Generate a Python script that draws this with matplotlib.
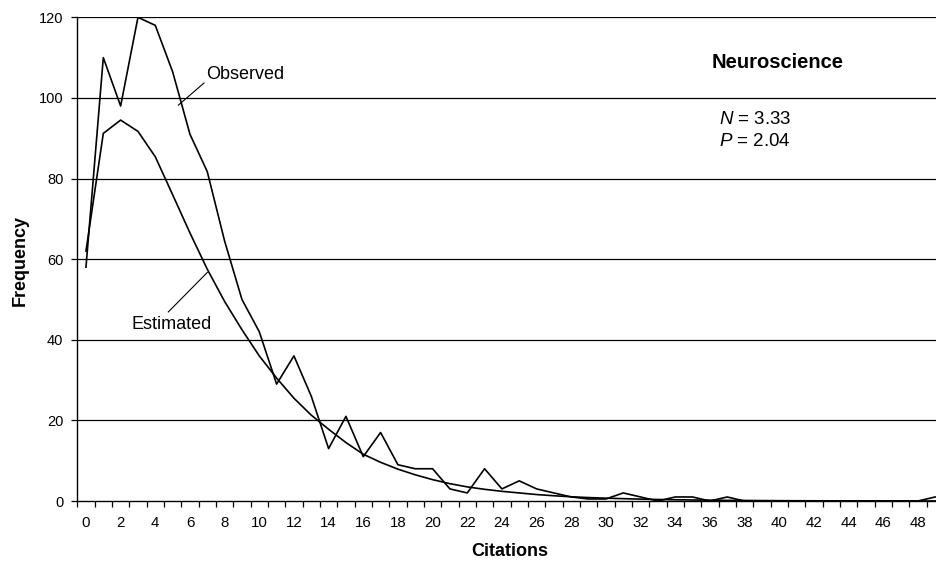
import numpy as np
import matplotlib
matplotlib.use("Agg")
import matplotlib.pyplot as plt

plt.rcParams['font.family'] = ['Liberation Sans', 'DejaVu Sans']
plt.rcParams['mathtext.fontset'] = 'custom'
plt.rcParams['mathtext.it'] = 'Liberation Sans:italic'
plt.rcParams['mathtext.rm'] = 'Liberation Sans'

# data
citations = list(range(50))
observed = [58, 110, 98, 120, 118, 106.5, 91, 81.7, 64.5, 50, 42, 29, 36, 26, 13,
            21, 11, 17, 9, 8, 8, 3, 2, 8, 3, 5, 3, 2, 1, 0.5,
            0.5, 2, 1, 0, 1, 1, 0, 1, 0, 0,
            0, 0, 0, 0, 0, 0, 0, 0, 0, 1]
estimated = [62, 91.2, 94.5, 91.7, 85.4, 76, 66.5, 57.5, 49.5, 42.5, 36, 30.5, 25.5, 21.3, 17.8,
             14.5, 11.6, 9.6, 7.9, 6.5, 5.3, 4.3, 3.5, 2.9, 2.4, 2.0, 1.6, 1.3, 1.05, 0.85,
             0.7, 0.58, 0.47, 0.38, 0.31, 0.25, 0.2, 0.16, 0.13, 0.1,
             0.08, 0.06, 0.05, 0.04, 0.03, 0.03, 0.02, 0.02, 0.01, 0.01]
yticks = [0, 20, 40, 60, 80, 100, 120]
xlabels = list(range(0, 50, 2))

fig = plt.figure(figsize=(9.37, 5.64), dpi=100)
ax = fig.add_axes([0.0825, 0.1117, 0.9248, 0.8576])

for y in yticks[1:]:
    ax.axhline(y, color='black', lw=0.9, zorder=1)

ax.plot(citations, observed, color='black', lw=1.2, zorder=3)
ax.plot(citations, estimated, color='black', lw=1.2, zorder=3)

ax.set_xlim(-0.5, 49.5)
ax.set_ylim(0, 120)

ax.set_xticks(xlabels)
ax.set_xticklabels([str(v) for v in xlabels])
ax.set_xticks(np.arange(-0.5, 50, 1), minor=True)
ax.tick_params(axis='x', which='major', length=0, pad=11, labelsize=10.8)
ax.tick_params(axis='x', which='minor', length=4, width=0.9, direction='out')
ax.set_yticks(yticks)
ax.tick_params(axis='y', length=4, width=0.9, direction='out', pad=6, labelsize=10.5)

for s in ['top', 'right']:
    ax.spines[s].set_visible(False)
for s in ['left', 'bottom']:
    ax.spines[s].set_linewidth(1.0)

fig.text(510 / 937, 13 / 564, 'Citations', ha='center', va='center',
         fontsize=13, fontweight='bold')
fig.text(20 / 937, 0.539, 'Frequency', ha='center', va='center',
         rotation=90, fontsize=13, fontweight='bold')

ax.text(39.9, 108.8, 'Neuroscience', ha='center', va='center',
        fontsize=14.5, fontweight='bold')
ax.text(36.5, 94.7, '$N$ = 3.33', ha='left', va='center', fontsize=13.5)
ax.text(36.5, 89.1, '$P$ = 2.04', ha='left', va='center', fontsize=13.5)

ax.text(6.96, 105.9, 'Observed', ha='left', va='center', fontsize=13)
ax.plot([6.81, 5.33], [103.7, 98.2], color='black', lw=0.8)
ax.text(2.65, 43.9, 'Estimated', ha='left', va='center', fontsize=13)
ax.plot([4.75, 7.0], [46.9, 56.7], color='black', lw=0.8)

fig.savefig('out.png', dpi=100)
